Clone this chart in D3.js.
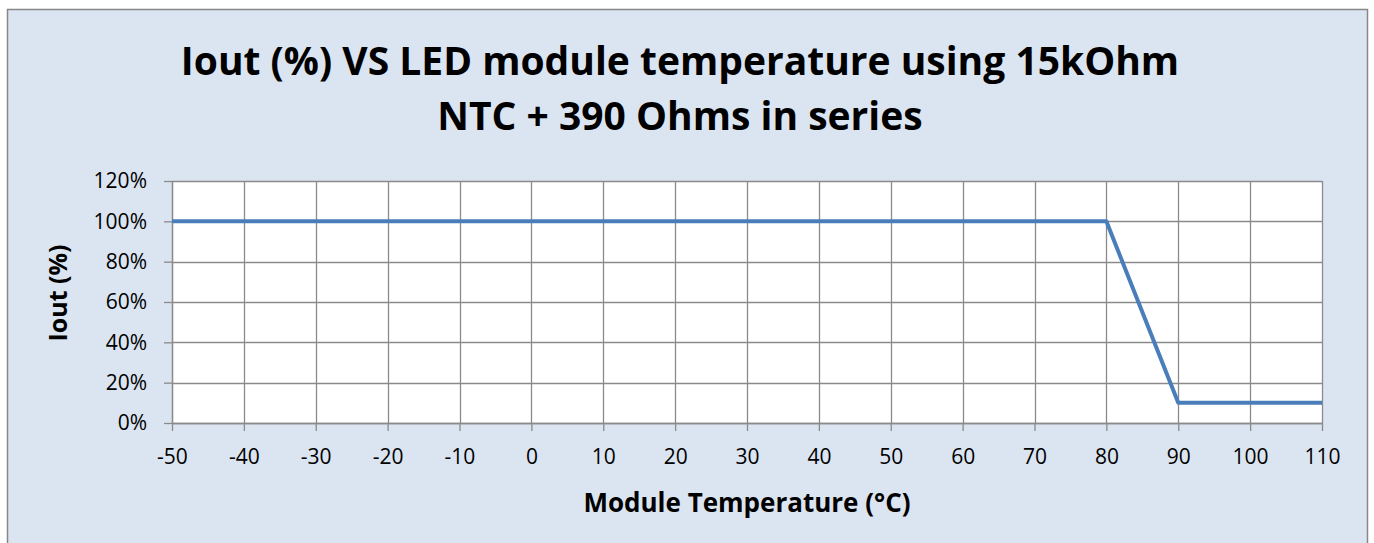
<!DOCTYPE html>
<html>
<head>
<meta charset="utf-8">
<script src="https://cdn.jsdelivr.net/npm/d3@7"></script>
<style>
  body { margin: 0; background: #ffffff; }
  svg { display: block; }
</style>
</head>
<body>
<svg id="chart" width="1374" height="543"></svg>
<script>
// data
var temps = [-50, -40, -30, -20, -10, 0, 10, 20, 30, 40, 50, 60, 70, 80, 90, 100, 110];
var iout  = [1, 1, 1, 1, 1, 1, 1, 1, 1, 1, 1, 1, 1, 1, 0.1, 0.1, 0.1];
var xTicks = [-50, -40, -30, -20, -10, 0, 10, 20, 30, 40, 50, 60, 70, 80, 90, 100, 110];
var yTicks = [0, 0.2, 0.4, 0.6, 0.8, 1, 1.2];
var titleLines = ["Iout (%) VS LED module temperature using 15kOhm", "NTC + 390 Ohms in series"];

function init(){
  var svg = d3.select("#chart");
  var font = "'Open Sans', sans-serif";

  var margin = {top: 181, right: 52, bottom: 120, left: 172};
  var width = 1374 - margin.left - margin.right;
  var height = 543 - margin.top - margin.bottom;

  // chart area background + border
  svg.append("rect")
    .attr("x", 7.5).attr("y", 9.5)
    .attr("width", 1360).attr("height", 560)
    .attr("fill", "#dbe5f1")
    .attr("stroke", "#878787")
    .attr("stroke-width", 1.5);

  // title
  svg.append("g").selectAll("text")
    .data(titleLines)
    .enter().append("text")
      .attr("x", 680)
      .attr("y", function(d, i){ return 75 + i * 55; })
      .attr("text-anchor", "middle")
      .style("font", "bold 39px " + font)
      .attr("fill", "#000")
      .text(function(d){ return d; });

  var g = svg.append("g").attr("transform", "translate(" + margin.left + "," + margin.top + ")");

  var x = d3.scaleLinear().domain([-50, 110]).range([0, width]);
  var y = d3.scaleLinear().domain([0, 1.2]).range([height, 0]);

  // plot area
  g.append("rect")
    .attr("width", width).attr("height", height)
    .attr("fill", "#ffffff");

  // gridlines
  g.append("g").selectAll("line")
    .data(xTicks)
    .enter().append("line")
      .attr("x1", function(d){ return Math.round(x(d)) + 0.5; })
      .attr("x2", function(d){ return Math.round(x(d)) + 0.5; })
      .attr("y1", 0).attr("y2", height)
      .attr("stroke", "#8a8a8a").attr("stroke-width", 1.3);

  g.append("g").selectAll("line")
    .data(yTicks)
    .enter().append("line")
      .attr("y1", function(d){ return Math.round(y(d)) + 0.5; })
      .attr("y2", function(d){ return Math.round(y(d)) + 0.5; })
      .attr("x1", 0).attr("x2", width)
      .attr("stroke", "#8a8a8a").attr("stroke-width", 1.3);

  // axes
  var xAxis = g.append("g")
    .attr("transform", "translate(0," + height + ")")
    .call(d3.axisBottom(x).tickValues(xTicks).tickFormat(function(d){ return String(d); })
      .tickSize(8).tickPadding(18).tickSizeOuter(0));

  var yAxis = g.append("g")
    .call(d3.axisLeft(y).tickValues(yTicks).tickFormat(d3.format(".0%")).tickSize(8).tickPadding(17).tickSizeOuter(0));

  [xAxis, yAxis].forEach(function(a){
    a.select(".domain").attr("stroke", "#8a8a8a").attr("stroke-width", 1.3);
    a.selectAll(".tick line").attr("stroke", "#8a8a8a").attr("stroke-width", 1.3);
    a.selectAll(".tick text").attr("fill", "#000").style("font", "21px " + font);
  });

  // line
  var line = d3.line()
    .x(function(d, i){ return x(temps[i]); })
    .y(function(d){ return y(d); });

  g.append("path")
    .datum(iout)
    .attr("d", line)
    .attr("fill", "none")
    .attr("stroke", "#4a7ebb")
    .attr("stroke-width", 4)
    .attr("stroke-linejoin", "round");

  // axis titles
  svg.append("text")
    .attr("x", margin.left + width / 2)
    .attr("y", 512)
    .attr("text-anchor", "middle")
    .style("font", "bold 26px " + font)
    .text("Module Temperature (°C)");

  svg.append("text")
    .attr("transform", "translate(67,293) rotate(-90)")
    .attr("text-anchor", "middle")
    .style("font", "bold 25px " + font)
    .text("Iout (%)");
}

window.onload = init;
</script>
</body>
</html>
